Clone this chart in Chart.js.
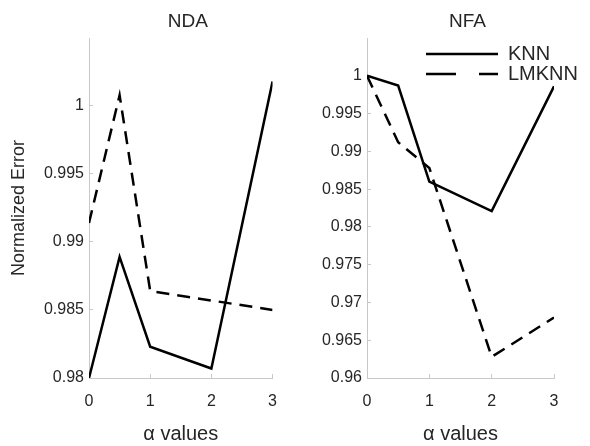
<!DOCTYPE html>
<html>
<head>
<meta charset="utf-8">
<script src="https://cdn.jsdelivr.net/npm/chart.js@4.4.1/dist/chart.umd.min.js"></script>
<style>
  body { margin: 0; background: #fff; }
  #wrap { position: relative; width: 590px; height: 446px; }
  canvas { position: absolute; top: 0; }
</style>
</head>
<body>
<div id="wrap">
  <canvas id="nda" width="295" height="446" style="left:0"></canvas>
  <canvas id="nfa" width="295" height="446" style="left:295px"></canvas>
</div>
<script>
// data
const alphas = [0, 0.5, 1, 2, 3];
const xTicks = [0, 1, 2, 3];
const seriesNames = ['KNN', 'LMKNN'];

const ndaKnn   = [0.98, 0.9889, 0.9823, 0.9807, 1.0018];
const ndaLmknn = [0.9914, 1.0008, 0.9864, 0.9857, 0.985];
const ndaTicks = [0.98, 0.985, 0.99, 0.995, 1];

const nfaKnn   = [1.0, 0.9987, 0.986, 0.9821, 0.9986];
const nfaLmknn = [1.0, 0.9912, 0.9878, 0.9628, 0.968];
const nfaTicks = [0.96, 0.965, 0.97, 0.975, 0.98, 0.985, 0.99, 0.995, 1];

Chart.defaults.font.family = '"Liberation Sans", Arial, Helvetica, sans-serif';
Chart.defaults.color = '#262626';

const axisGray = '#c8c8c8';
const lineDash = [13, 8];
const legendDash = [30, 23];

// move title a bit right, and put the legend in the upper right corner
const nudge = {
  id: 'nudge',
  afterLayout(chart) {
    const t = chart.titleBlock;
    if (t) { t.left += 7; t.right += 7; }
    const lg = chart.legend;
    if (lg && chart.options.plugins.legend.display) {
      const w = lg.width, h = lg.height;
      lg.left = 131; lg.right = 131 + w;
      lg.top = 44; lg.bottom = 44 + h;
    }
  }
};

function points(ys) {
  return alphas.map((a, i) => ({ x: a, y: ys[i] }));
}

function legendLabels(chart) {
  const items = Chart.defaults.plugins.legend.labels.generateLabels(chart);
  return items.map(it => {
    const ds = chart.data.datasets[it.datasetIndex];
    return Object.assign(it, {
      lineDash: ds.borderDash ? legendDash : [],
      lineWidth: 2.5,
      strokeStyle: '#000'
    });
  });
}

function makeChart(id, title, knn, lmknn, yMin, yTicks, yTitle, axisW, padRight, legend) {
  new Chart(document.getElementById(id), {
    type: 'line',
    data: {
      datasets: [
        {
          label: seriesNames[0],
          data: points(knn),
          borderColor: '#000',
          borderWidth: 2.5,
          pointRadius: 0,
          tension: 0
        },
        {
          label: seriesNames[1],
          data: points(lmknn),
          borderColor: '#000',
          borderWidth: 2.5,
          borderDash: lineDash,
          pointRadius: 0,
          tension: 0
        }
      ]
    },
    options: {
      responsive: false,
      animation: false,
      layout: { padding: { left: 0, top: 0, right: padRight, bottom: 0 } },
      plugins: {
        title: {
          display: true,
          text: title,
          fullSize: false,
          font: { size: 19, weight: 'normal' },
          color: '#262626',
          padding: { top: 10, bottom: 5.2 }
        },
        legend: {
          display: legend,
          position: 'chartArea',
          align: 'start',
          labels: {
            usePointStyle: true,
            pointStyle: 'line',
            pointStyleWidth: 72,
            boxHeight: 20,
            padding: 0,
            color: '#262626',
            font: { size: 20 },
            generateLabels: legendLabels
          }
        },
        tooltip: { enabled: false }
      },
      scales: {
        x: {
          type: 'linear',
          min: 0,
          max: 3,
          afterBuildTicks: s => { s.ticks = xTicks.map(v => ({ value: v })); },
          afterFit: s => { s.height = 68; },
          grid: { display: true, drawOnChartArea: false, drawTicks: true, tickLength: -4, color: axisGray },
          border: { display: true, color: axisGray, width: 1 },
          ticks: { font: { size: 16 }, padding: 18, color: '#262626' },
          title: {
            display: true,
            text: 'α values',
            font: { size: 20 },
            color: '#262626',
            padding: { top: 0, bottom: 0 }
          }
        },
        y: {
          min: yMin,
          max: 1.005,
          afterBuildTicks: s => { s.ticks = yTicks.map(v => ({ value: v })); },
          afterFit: s => { s.width = axisW; },
          grid: { display: true, drawOnChartArea: false, drawTicks: true, tickLength: -4, color: axisGray },
          border: { display: true, color: axisGray, width: 1 },
          ticks: {
            font: { size: 16 },
            padding: 9,
            color: '#262626',
            callback: v => String(v)
          },
          title: {
            display: yTitle !== '',
            text: yTitle,
            font: { size: 18 },
            color: '#262626',
            padding: { top: 8, bottom: 0 }
          }
        }
      }
    },
    plugins: [nudge]
  });
}

makeChart('nda', 'NDA', ndaKnn, ndaLmknn, 0.98, ndaTicks, 'Normalized Error', 89, 20, false);
makeChart('nfa', 'NFA', nfaKnn, nfaLmknn, 0.96, nfaTicks, '', 72, 36, true);
</script>
</body>
</html>
